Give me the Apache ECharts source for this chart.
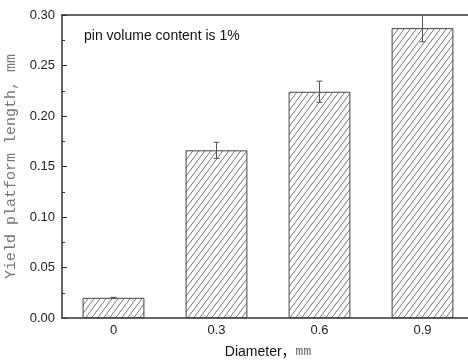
<!DOCTYPE html>
<html>
<head>
<meta charset="utf-8">
<script src="https://cdn.jsdelivr.net/npm/echarts@6/dist/echarts.min.js"></script>
<style>
  html, body { margin: 0; padding: 0; background: #fff; }
  #chart { width: 468px; height: 363px; }
</style>
</head>
<body>
<div id="chart"></div>
<script>
// Pin diameter (mm) categories
var diameters = ['0', '0.3', '0.6', '0.9'];
// Mean yield platform length (mm)
var platformLength = [0.020, 0.166, 0.224, 0.287];
// Standard deviation for each bar (mm)
var platformError = [0.0005, 0.008, 0.0105, 0.0135];
// Y-axis tick values
var yTicks = [0.00, 0.05, 0.10, 0.15, 0.20, 0.25, 0.30];

// Diagonal hatch tile used as the bar fill
function makeHatch() {
  var w = 6, h = 8;
  var c = document.createElement('canvas');
  c.width = w; c.height = h;
  var ctx = c.getContext('2d');
  ctx.fillStyle = '#ffffff';
  ctx.fillRect(0, 0, w, h);
  ctx.strokeStyle = '#6a6a6a';
  ctx.lineWidth = 0.9;
  ctx.beginPath();
  ctx.moveTo(-w, 2 * h); ctx.lineTo(2 * w, -h);
  ctx.moveTo(-2 * w, 2 * h); ctx.lineTo(w, -h);
  ctx.moveTo(0, 2 * h); ctx.lineTo(3 * w, -h);
  ctx.stroke();
  return c;
}

var errorData = diameters.map(function (d, i) {
  return [i, platformLength[i] - platformError[i], platformLength[i] + platformError[i]];
});

var chart = echarts.init(document.getElementById('chart'), null, { renderer: 'canvas' });

chart.setOption({
  animation: false,
  backgroundColor: '#ffffff',
  grid: { left: 62, top: 15, bottom: 45, right: -6, containLabel: false, outerBoundsMode: 'none' },
  graphic: [{
    type: 'text',
    left: 84,
    top: 29,
    style: {
      text: 'pin volume content is 1%',
      font: '14px "Liberation Sans", Arial, sans-serif',
      fill: '#111'
    }
  }],
  xAxis: [{
    type: 'category',
    data: diameters,
    boundaryGap: true,
    axisLine: { lineStyle: { color: '#333', width: 1.5 } },
    axisTick: { show: false },
    axisLabel: {
      margin: 6,
      fontSize: 13,
      color: '#222',
      fontFamily: '"Liberation Sans", Arial, sans-serif'
    },
    name: '{a|Diameter，}{b|mm}',
    nameLocation: 'middle',
    nameGap: 27,
    nameTextStyle: {
      rich: {
        a: { fontSize: 14, color: '#111', fontFamily: '"Liberation Sans", "Noto Sans CJK SC", sans-serif' },
        b: { fontSize: 13, color: '#666', fontFamily: '"Liberation Mono", monospace' }
      }
    }
  }, {
    type: 'category',
    position: 'top',
    data: diameters,
    axisLine: { show: true, lineStyle: { color: '#333', width: 1.5 } },
    axisTick: { show: false },
    axisLabel: { show: false }
  }],
  yAxis: {
    type: 'value',
    min: 0,
    max: 0.30,
    interval: 0.05,
    axisLine: { show: true, lineStyle: { color: '#333', width: 1.5 } },
    axisTick: { show: true, inside: true, length: 5, lineStyle: { color: '#333' } },
    minorTick: { show: true, splitNumber: 2, length: 3, lineStyle: { color: '#333' } },
    splitLine: { show: false },
    axisLabel: {
      margin: 7,
      fontSize: 13,
      color: '#222',
      fontFamily: '"Liberation Sans", Arial, sans-serif',
      formatter: function (v) { return v.toFixed(2); }
    },
    name: 'Yield platform length, mm',
    nameLocation: 'middle',
    nameGap: 40,
    nameTextStyle: {
      fontSize: 15,
      color: '#777',
      fontFamily: '"Liberation Mono", "DejaVu Sans Mono", monospace'
    }
  },
  series: [{
    type: 'bar',
    data: platformLength,
    barWidth: '60%',
    itemStyle: {
      color: { image: makeHatch(), repeat: 'repeat' },
      borderColor: '#444',
      borderWidth: 1
    }
  }, {
    type: 'custom',
    data: errorData,
    clip: true,
    z: 5,
    renderItem: function (params, api) {
      var x = api.value(0);
      var lo = api.coord([x, api.value(1)]);
      var hi = api.coord([x, api.value(2)]);
      var cap = 3;
      var style = { stroke: '#555', lineWidth: 1 };
      return {
        type: 'group',
        children: [
          { type: 'line', shape: { x1: hi[0], y1: hi[1], x2: lo[0], y2: lo[1] }, style: style },
          { type: 'line', shape: { x1: hi[0] - cap, y1: hi[1], x2: hi[0] + cap, y2: hi[1] }, style: style },
          { type: 'line', shape: { x1: lo[0] - cap, y1: lo[1], x2: lo[0] + cap, y2: lo[1] }, style: style }
        ]
      };
    }
  }]
});
</script>
</body>
</html>
